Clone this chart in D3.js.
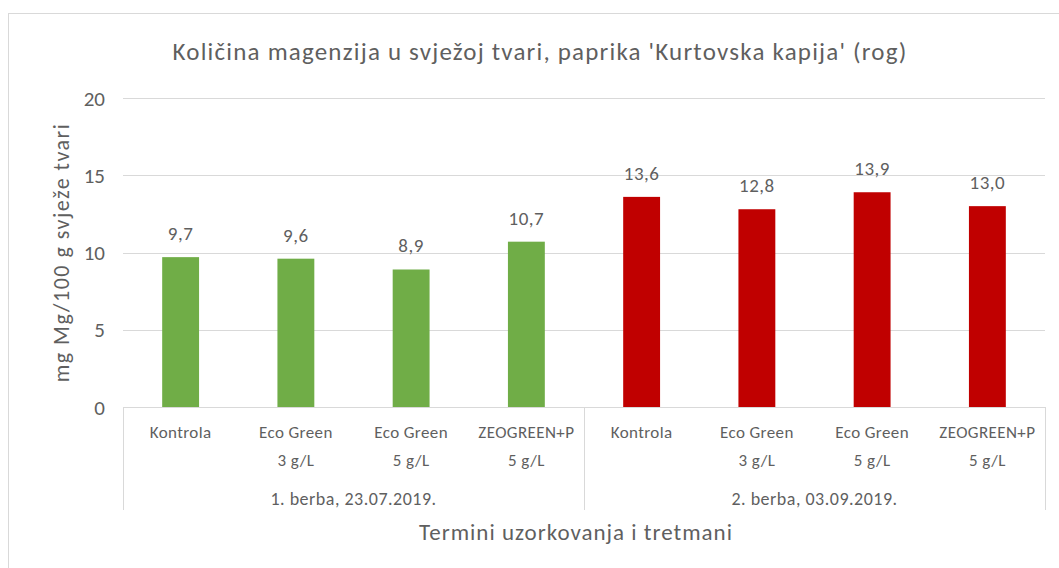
<!DOCTYPE html>
<html>
<head>
<meta charset="utf-8">
<script src="https://cdn.jsdelivr.net/npm/d3@7"></script>
<style>
  body { margin: 0; background: #fff; }
  #chart { width: 1059px; height: 568px; }
  text { font-family: Carlito, Lato, "Open Sans", sans-serif; fill: #5f5f5f; }
</style>
</head>
<body>
<div id="chart"></div>
<script>
// Mg content bars, two harvest groups

const treatments = ["Kontrola", "Eco Green|3 g/L", "Eco Green|5 g/L", "ZEOGREEN+P|5 g/L"];
const groups = ["1. berba, 23.07.2019.", "2. berba, 03.09.2019."];
const groupColors = ["#70ad47", "#c00000"];
const values1 = [9.7, 9.6, 8.9, 10.7];
const values2 = [13.6, 12.8, 13.9, 13.0];
const yTicks = [0, 5, 10, 15, 20];

const W = 1059, H = 568;
const margin = { top: 98, right: 14, bottom: 161, left: 123 };
const width = W - margin.left - margin.right;
const height = H - margin.top - margin.bottom;

const svg = d3.select("#chart").append("svg")
  .attr("width", W)
  .attr("height", H);

// outer chart border
svg.append("rect")
  .attr("x", 8.5).attr("y", 13.5)
  .attr("width", W).attr("height", H)
  .attr("fill", "none")
  .attr("stroke", "#d9d9d9");

const g = svg.append("g").attr("transform", `translate(${margin.left},${margin.top})`);

const rows = [];
groups.forEach((grp, gi) => {
  const vals = gi === 0 ? values1 : values2;
  treatments.forEach((t, ti) => {
    rows.push({ key: gi + "-" + ti, label: t, group: gi, value: vals[ti] });
  });
});

const x = d3.scaleBand()
  .domain(rows.map(d => d.key))
  .range([0, width])
  .paddingInner(0.68)
  .paddingOuter(0.34);

const y = d3.scaleLinear().domain([0, 20]).range([height, 0]);

// gridlines
g.selectAll(".grid")
  .data(yTicks.filter(d => d > 0))
  .join("line")
  .attr("class", "grid")
  .attr("x1", 0).attr("x2", width)
  .attr("y1", d => Math.round(y(d)) + 0.5)
  .attr("y2", d => Math.round(y(d)) + 0.5)
  .attr("stroke", "#d9d9d9");

// y axis labels
g.selectAll(".ytick")
  .data(yTicks)
  .join("text")
  .attr("class", "ytick")
  .attr("x", -18)
  .attr("y", d => y(d))
  .attr("dy", "0.36em")
  .attr("text-anchor", "end")
  .style("font-size", "21px")
  .text(d => d);

// bars
g.selectAll(".bar")
  .data(rows)
  .join("rect")
  .attr("class", "bar")
  .attr("x", d => x(d.key))
  .attr("y", d => y(d.value))
  .attr("width", x.bandwidth())
  .attr("height", d => height - y(d.value))
  .attr("fill", d => groupColors[d.group]);

// value labels
g.selectAll(".val")
  .data(rows)
  .join("text")
  .attr("class", "val")
  .attr("x", d => x(d.key) + x.bandwidth() / 2)
  .attr("y", d => y(d.value) - 17)
  .attr("text-anchor", "middle")
  .style("font-size", "19px")
  .style("letter-spacing", "0.5px")
  .text(d => d3.format(".1f")(d.value).replace(".", ","));

// baseline
g.append("line")
  .attr("x1", 0).attr("x2", width)
  .attr("y1", height + 0.5).attr("y2", height + 0.5)
  .attr("stroke", "#d9d9d9");

// group brackets
const groupW = width / groups.length;
[0, 1, 2].forEach(i => {
  g.append("line")
    .attr("x1", Math.round(i * groupW) + 0.5).attr("x2", Math.round(i * groupW) + 0.5)
    .attr("y1", height).attr("y2", height + 103)
    .attr("stroke", "#d9d9d9");
});

// category labels
const catLabels = g.selectAll(".cat")
  .data(rows)
  .join("text")
  .attr("class", "cat")
  .attr("text-anchor", "middle")
  .style("font-size", "17px")
  .style("letter-spacing", "0.4px");
catLabels.each(function(d) {
  const parts = d.label.split("|");
  const cx = x(d.key) + x.bandwidth() / 2;
  d3.select(this).selectAll("tspan")
    .data(parts)
    .join("tspan")
    .attr("x", cx)
    .attr("y", (p, i) => height + 31 + i * 28)
    .text(p => p);
});

// group labels
g.selectAll(".grp")
  .data(groups)
  .join("text")
  .attr("class", "grp")
  .attr("x", (d, i) => (i + 0.5) * groupW)
  .attr("y", height + 98)
  .attr("text-anchor", "middle")
  .style("font-size", "18px")
  .style("letter-spacing", "0.5px")
  .text(d => d);

// axis titles
g.append("text")
  .attr("x", width / 2 - 8)
  .attr("y", height + 133)
  .attr("text-anchor", "middle")
  .style("font-size", "23px")
  .style("letter-spacing", "1px")
  .text("Termini uzorkovanja i tretmani");

g.append("text")
  .attr("transform", `translate(${-54},${height / 2}) rotate(-90)`)
  .attr("text-anchor", "middle")
  .style("font-size", "22px")
  .style("letter-spacing", "1.5px")
  .text("mg Mg/100 g svježe tvari");

// title
svg.append("text")
  .attr("x", 540)
  .attr("y", 60)
  .attr("text-anchor", "middle")
  .style("font-size", "25px")
  .style("letter-spacing", "1.2px")
  .text("Količina magenzija u svježoj tvari, paprika 'Kurtovska kapija' (rog)");
</script>
</body>
</html>
